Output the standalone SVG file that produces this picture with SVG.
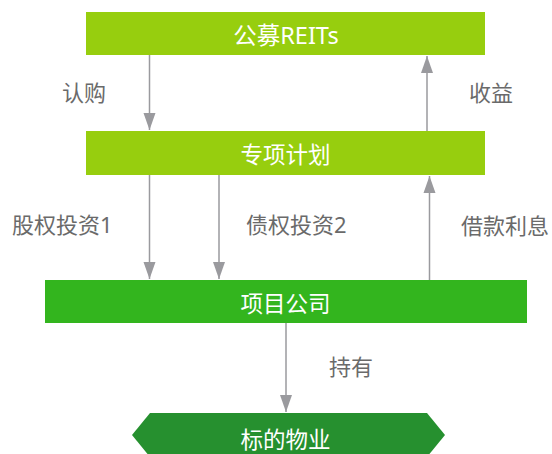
<svg xmlns="http://www.w3.org/2000/svg" width="552" height="454" viewBox="0 0 552 454">
<style>
.node{font-family:"Noto Sans","Noto Sans CJK SC",sans-serif;font-size:22.5px;fill:#ffffff;text-anchor:middle}
.lbl{font-family:"Noto Sans","Noto Sans CJK SC",sans-serif;font-size:22px;fill:#6a6a6a}
</style>
<defs>
<marker id="ah2" markerUnits="userSpaceOnUse" markerWidth="18" markerHeight="14" viewBox="0 0 18 14" refX="17" refY="7" orient="auto">
<path d="M0,1 L17,7 L0,13 Z" fill="#9a9a9e"/>
</marker>
</defs>
<rect width="552" height="454" fill="#ffffff"/>
<g id="connectors">
<line x1="149.5" y1="55" x2="149.5" y2="130" stroke="#9a9a9e" stroke-width="1.5" marker-end="url(#ah2)"/>
<line x1="427" y1="131" x2="427" y2="56" stroke="#9a9a9e" stroke-width="1.5" marker-end="url(#ah2)"/>
<line x1="149.5" y1="175" x2="149.5" y2="279" stroke="#9a9a9e" stroke-width="1.5" marker-end="url(#ah2)"/>
<line x1="219" y1="175" x2="219" y2="279" stroke="#9a9a9e" stroke-width="1.5" marker-end="url(#ah2)"/>
<line x1="429.5" y1="280" x2="429.5" y2="176" stroke="#9a9a9e" stroke-width="1.5" marker-end="url(#ah2)"/>
<line x1="286" y1="323" x2="286" y2="412" stroke="#9a9a9e" stroke-width="1.5" marker-end="url(#ah2)"/>
<text class="lbl" x="62" y="101">认购</text>
<text class="lbl" x="469" y="101">收益</text>
<text class="lbl" x="12" y="233">股权投资1</text>
<text class="lbl" x="246" y="233">债权投资2</text>
<text class="lbl" x="461" y="234">借款利息</text>
<text class="lbl" x="329" y="375">持有</text>
</g>
<g id="node-reits">
<rect x="86" y="12" width="399" height="43" fill="#97ce0e"/>
<text class="node" x="286" y="44" style="font-size:23.5px">公募REITs</text>
</g>
<g id="node-plan">
<rect x="86" y="131" width="399" height="44" fill="#97ce0e"/>
<text class="node" x="285.5" y="163">专项计划</text>
</g>
<g id="node-company">
<rect x="45" y="280" width="482" height="43" fill="#33b51e"/>
<text class="node" x="285.5" y="312">项目公司</text>
</g>
<g id="node-property">
<polygon points="150,413 427,413 445,435 427,457 150,457 132,435" fill="#26902f"/>
<text class="node" x="285.5" y="448">标的物业</text>
</g>
</svg>
